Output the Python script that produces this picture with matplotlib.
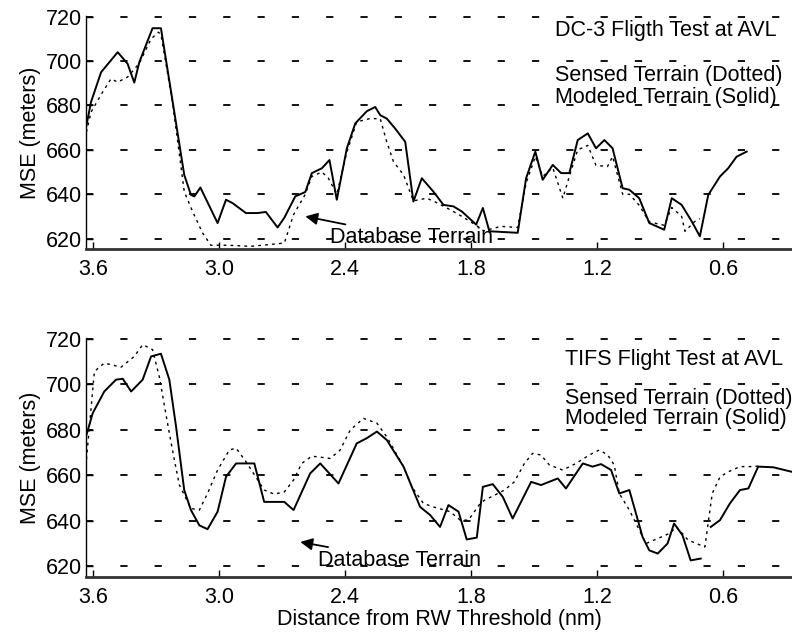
import numpy as np
import matplotlib.pyplot as plt

plt.rcParams["font.family"] = ["Liberation Sans", "DejaVu Sans"]

# DC-3 flight test (top panel): distance (nm) and MSE (m)
dc3_model_d = [3.633, 3.611, 3.563, 3.484, 3.437, 3.405, 3.381, 3.318, 3.278, 3.222,
               3.167, 3.135, 3.119, 3.090, 3.008, 2.968, 2.937, 2.873, 2.818, 2.778,
               2.722, 2.690, 2.638, 2.590, 2.559, 2.511, 2.475, 2.440, 2.392, 2.352,
               2.297, 2.257, 2.233, 2.202, 2.162, 2.114, 2.075, 2.035, 1.980, 1.932,
               1.884, 1.844, 1.776, 1.744, 1.713, 1.578, 1.538, 1.494, 1.459, 1.411,
               1.371, 1.332, 1.292, 1.244, 1.205, 1.165, 1.126, 1.078, 1.046, 0.999,
               0.951, 0.880, 0.844, 0.797, 0.749, 0.710, 0.670, 0.614, 0.575, 0.535,
               0.487]
dc3_model_v = [671, 681.6, 695, 704, 698.8, 690.3, 699.5, 714.8, 714.8, 681.6,
               648.7, 639.7, 639, 643, 627, 637.5, 636, 631.5, 631.5, 632,
               625, 629.4, 639, 641, 649.5, 651.7, 655.4, 637.5, 660.7, 671.9,
               677.4, 679.3, 675.6, 674.1, 669.6, 663.6, 636.7, 647.2, 641.2, 635.2,
               634.5, 632.2, 626.3, 633.8, 623.3, 622.6, 647.2, 659.2, 646.5, 653.2,
               649.5, 649.5, 664.4, 667.4, 660.7, 664.4, 660.7, 642.7, 642, 638.2,
               627, 624, 638.2, 635.2, 627.8, 621, 639.7, 648, 651.7, 656.9,
               659.2]
dc3_sensed_d = [3.633, 3.611, 3.556, 3.516, 3.484, 3.437, 3.381, 3.325, 3.290, 3.278,
                3.222, 3.167, 3.127, 3.080, 3.040, 2.960, 2.850, 2.740, 2.690, 2.646,
                2.590, 2.559, 2.511, 2.480, 2.440, 2.392, 2.345, 2.281, 2.233, 2.202,
                2.170, 2.122, 2.075, 2.011, 1.960, 1.900, 1.844, 1.776, 1.740, 1.657,
                1.578, 1.538, 1.494, 1.459, 1.411, 1.363, 1.332, 1.292, 1.244, 1.205,
                1.150, 1.126, 1.078, 1.046, 0.999, 0.951, 0.880, 0.844, 0.797, 0.781,
                0.733, 0.710]
dc3_sensed_v = [668, 677, 686, 692, 690.5, 692.8, 699, 710, 713, 712,
                681, 641.2, 632.2, 622.6, 617, 617, 616.5, 617.5, 618, 630.8,
                640, 648, 650, 647.2, 640, 659, 672.6, 674.1, 674, 663.6,
                654.7, 648.7, 637, 638.2, 636, 633, 630, 626, 623.5, 625.5,
                625, 645, 657, 648, 652, 638.2, 648, 660, 662, 653,
                652.5, 657, 640, 640, 635, 627.5, 626, 634, 630, 623.3,
                627.8, 629]

# TIFS flight test (bottom panel)
tifs_model_d = [3.633, 3.603, 3.548, 3.492, 3.460, 3.420, 3.365, 3.325, 3.278, 3.238,
                3.206, 3.167, 3.135, 3.095, 3.056, 3.008, 2.968, 2.920, 2.833, 2.786,
                2.690, 2.646, 2.567, 2.519, 2.432, 2.345, 2.297, 2.249, 2.202, 2.122,
                2.083, 2.043, 1.995, 1.948, 1.908, 1.860, 1.821, 1.773, 1.744, 1.697,
                1.649, 1.602, 1.514, 1.467, 1.387, 1.348, 1.268, 1.221, 1.181, 1.133,
                1.094, 1.046, 0.983, 0.951, 0.911, 0.864, 0.833, 0.793, 0.754, 0.706,
                0.690, 0.658, 0.614, 0.567, 0.519, 0.479, 0.432, 0.360, 0.271]
tifs_model_v = [677.7, 687.3, 696.8, 702, 702.4, 696.8, 702, 712.2, 713.4, 702,
                681.4, 653.5, 644.7, 638, 636.3, 644, 659.3, 665.2, 665.2, 648.3,
                648.3, 644.7, 660.8, 665.2, 656.4, 674, 676.3, 679.2, 675.5, 663.8,
                655, 646.1, 642.5, 637.3, 646.9, 644, 631.8, 632.6, 654.9, 656.1,
                650.5, 641, 657.1, 655.7, 658.6, 654.2, 665.2, 663.8, 664.9, 662.3,
                652, 653.5, 632.9, 627, 625.6, 630, 638.8, 633.7, 622.6, 623.4,
                np.nan, 637.3, 640.3, 647.6, 653.5, 654.2, 663.8, 663.5, 661.5]
tifs_sensed_d = [3.633, 3.595, 3.548, 3.468, 3.405, 3.365, 3.318, 3.286, 3.262, 3.238,
                 3.214, 3.190, 3.135, 3.095, 3.056, 3.008, 2.952, 2.920, 2.873, 2.786,
                 2.738, 2.690, 2.646, 2.607, 2.559, 2.471, 2.424, 2.376, 2.313, 2.249,
                 2.202, 2.122, 2.083, 2.027, 1.980, 1.900, 1.852, 1.813, 1.757, 1.737,
                 1.681, 1.641, 1.594, 1.546, 1.507, 1.467, 1.427, 1.364, 1.300, 1.237,
                 1.189, 1.149, 1.118, 1.094, 1.046, 1.014, 0.967, 0.911, 0.856, 0.821,
                 0.766, 0.686, 0.662, 0.651, 0.614, 0.575, 0.519, 0.471, 0.432]
tifs_sensed_v = [667, 705.6, 709.3, 707.5, 712.2, 717.4, 715.2, 703.4, 690.9, 678.5,
                 666.7, 655.7, 645.4, 644.7, 652, 662.3, 671.1, 671.9, 666, 653.5,
                 651.7, 652.7, 657.9, 665.2, 668.4, 667.4, 671.1, 679.9, 685, 682.9,
                 676.9, 663.8, 655, 647.6, 646.1, 644, 640.3, 640.3, 647.6, 649,
                 651.6, 653.5, 657.1, 665.2, 669.6, 668.9, 664.5, 662.3, 665.2, 668.9,
                 671.1, 668.9, 664.5, 652, 644.7, 638.8, 630, 632.2, 634.4, 637.3,
                 631.5, 628.5, 644.7, 652, 659.3, 661.5, 663.8, 663.8, 664]

x_ticks = [3.6, 3.0, 2.4, 1.8, 1.2, 0.6]
x_tick_labels = ["3.6", "3.0", "2.4", "1.8", "1.2", "0.6"]
y_ticks = [620, 640, 660, 680, 700, 720]

fig = plt.figure(figsize=(7.92, 6.38), dpi=100)
ax1 = fig.add_axes([0.1086, 0.6097, 0.8914, 0.3652])
ax2 = fig.add_axes([0.1086, 0.0956, 0.8914, 0.3746])


def style_axis(ax):
    ax.set_xlim(3.635, 0.271)
    ax.set_ylim(615.3, 720.3)
    ax.set_xticks(x_ticks)
    ax.set_xticklabels(x_tick_labels)
    ax.set_yticks(y_ticks)
    ax.tick_params(axis="both", direction="in", labelsize=15.5, length=5, width=1)
    ax.tick_params(axis="x", pad=7)
    ax.tick_params(axis="y", pad=3)
    for y in y_ticks:
        ax.axhline(y, color="black", lw=1.3, linestyle=(0, (4, 15)), zorder=0)
    ax.spines["top"].set_visible(False)
    ax.spines["right"].set_visible(False)
    ax.spines["bottom"].set_linewidth(2.0)
    ax.spines["bottom"].set_color("#333333")
    ax.spines["left"].set_linewidth(1.0)
    ax.set_ylabel("MSE (meters)", fontsize=15.5, labelpad=3)


# top panel
ax1.plot(dc3_model_d, dc3_model_v, color="black", lw=1.4)
ax1.plot(dc3_sensed_d, dc3_sensed_v, color="black", lw=1.0, linestyle=(0, (2, 3)))
style_axis(ax1)
ax1.text(1.40, 713.7, "DC-3 Fligth Test at AVL", fontsize=15.5, va="center", ha="left")
ax1.text(1.40, 693.5, "Sensed Terrain (Dotted)", fontsize=15.5, va="center", ha="left")
ax1.text(1.40, 683.8, "Modeled Terrain (Solid)", fontsize=15.5, va="center", ha="left")
ax1.annotate("Database Terrain", xy=(2.59, 630), xytext=(2.471, 620.4),
             fontsize=15.5, va="center", ha="left",
             arrowprops=dict(arrowstyle="-|>", color="black", lw=1.3, mutation_scale=18,
                             shrinkA=0, shrinkB=0))

# bottom panel
ax2.plot(tifs_model_d, tifs_model_v, color="black", lw=1.4)
ax2.plot(tifs_sensed_d, tifs_sensed_v, color="black", lw=1.0, linestyle=(0, (2, 3)))
style_axis(ax2)
ax2.text(1.352, 710.7, "TIFS Flight Test at AVL", fontsize=15.5, va="center", ha="left")
ax2.text(1.352, 693.9, "Sensed Terrain (Dotted)", fontsize=15.5, va="center", ha="left")
ax2.text(1.352, 685.0, "Modeled Terrain (Solid)", fontsize=15.5, va="center", ha="left")
ax2.annotate("Database Terrain", xy=(2.614, 630.7), xytext=(2.529, 622.6),
             fontsize=15.5, va="center", ha="left",
             arrowprops=dict(arrowstyle="-|>", color="black", lw=1.3, mutation_scale=18,
                             shrinkA=0, shrinkB=0))
ax2.set_xlabel("Distance from RW Threshold (nm)", fontsize=15.5, labelpad=1)

fig.savefig("out.png", dpi=100)
